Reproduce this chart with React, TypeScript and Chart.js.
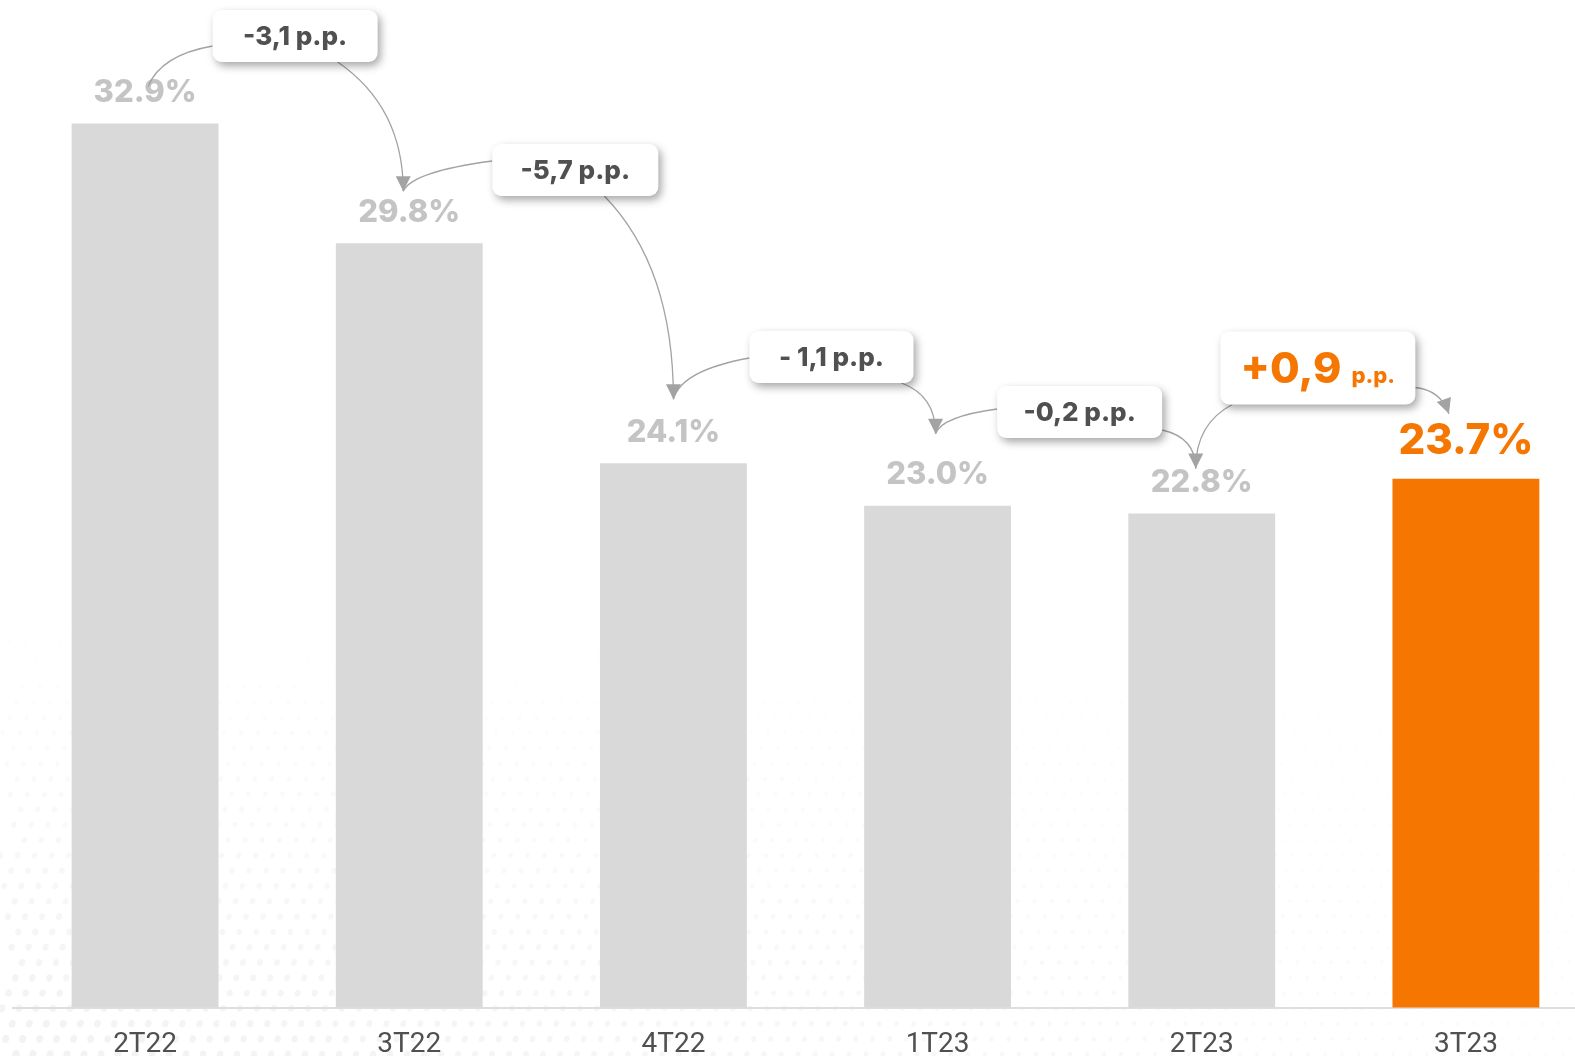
import React, { useEffect, useRef } from "react";
import { Chart, registerables } from "chart.js";

Chart.register(...registerables);

// ---------- data ----------
const CATEGORIES = ["2T22", "3T22", "4T22", "1T23", "2T23", "3T23"];
const VALUES = [32.9, 29.8, 24.1, 23.0, 22.8, 23.7];
const DELTA_LABELS = ["-3,1", "-5,7", "- 1,1", "-0,2", "+0,9"];
const DELTA_UNIT = "p.p.";
const Y_MIN = 10;
const Y_MAX = 36.1;

// ---------- styles / layout ----------
const GREY_BAR = "#d9d9d9";
const ORANGE = "#f57600";
const LABEL_GREY = "#c4c4c4";
const DARK = "#505050";
const ARROW = "#a3a3a3";
const FONT = "Inter, 'Noto Sans', sans-serif";

// callout boxes: dx from midpoint between bars, absolute center y
const BOXES = [
  { dx: 18, cy: 36, w: 165, h: 52 },
  { dx: 34, cy: 170, w: 166, h: 52 },
  { dx: 26, cy: 357, w: 164, h: 52 },
  { dx: 10, cy: 412, w: 165, h: 52 },
  { dx: -16, cy: 368, w: 195, h: 73 },
];
// arrow tips relative to bar (dx from bar center, dy above bar top)
const TIPS = [
  { dx: 3, dy: 37 },
  { dx: -6, dy: 52 },
  { dx: 0, dy: 64 },
  { dx: -2, dy: 72 },
  { dx: -6, dy: 45 },
  { dx: -17, dy: 65 },
];
// curve starts relative to box top-left; control point as fraction of (end-start)
const LEFT_CURVES = [
  { sx: 0, sy: 36, ax: 0.8, ay: 0.22 },
  { sx: 0, sy: 17, ax: 0.9, ay: 0.35 },
  { sx: 0, sy: 27, ax: 0.9, ay: 0.3 },
  { sx: 0, sy: 23, ax: 0.9, ay: 0.3 },
  { sx: 12, sy: 73, ax: 1, ay: 0.3 },
];
const RIGHT_CURVES = [
  { sx: 125, sy: 52, ax: 1, ay: 0.35 },
  { sx: 112, sy: 52, ax: 1, ay: 0.35 },
  { sx: 152, sy: 52, ax: 1, ay: 0.25 },
  { sx: 165, sy: 44, ax: 1, ay: 0.2 },
  { sx: 195, sy: 56, ax: 0.75, ay: 0.1 },
];

type P = { x: number; y: number };

function quad(ctx: CanvasRenderingContext2D, s: P, c: P, e: P) {
  ctx.beginPath();
  ctx.moveTo(s.x, s.y);
  ctx.quadraticCurveTo(c.x, c.y, e.x, e.y);
  ctx.stroke();
}

function arrowHead(ctx: CanvasRenderingContext2D, tip: P, from: P) {
  const ang = Math.atan2(tip.y - from.y, tip.x - from.x);
  const len = 15;
  const hw = 7.5;
  const bx = tip.x - Math.cos(ang) * len;
  const by = tip.y - Math.sin(ang) * len;
  ctx.beginPath();
  ctx.moveTo(tip.x, tip.y);
  ctx.lineTo(bx + Math.sin(ang) * hw, by - Math.cos(ang) * hw);
  ctx.lineTo(bx - Math.sin(ang) * hw, by + Math.cos(ang) * hw);
  ctx.closePath();
  ctx.fill();
}

const backgroundPlugin = {
  id: "dotsBackground",
  beforeDraw(chart: any) {
    const ctx: CanvasRenderingContext2D = chart.ctx;
    const W = chart.width;
    const H = chart.height;
    ctx.save();
    ctx.fillStyle = "#ffffff";
    ctx.fillRect(0, 0, W, H);
    const step = 17;
    const top = 580;
    let row = 0;
    for (let y = top; y < H + step; y += step * 0.9, row++) {
      const vy = (y - top) / (H - top);
      for (let x = (row % 2) * (step / 2); x < W; x += step) {
        const fx = Math.max(0, 1 - x / 1500);
        const a = 0.05 * vy * (0.35 + 0.65 * fx);
        if (a <= 0.004) continue;
        const r = 2 + 2.2 * vy * fx;
        ctx.fillStyle = `rgba(0,0,0,${a.toFixed(4)})`;
        ctx.beginPath();
        ctx.ellipse(x + (y * 0.12) % step, y, r * 0.85, r, 0.3, 0, Math.PI * 2);
        ctx.fill();
      }
    }
    ctx.restore();
  },
};

const annotationsPlugin = {
  id: "annotations",
  afterDatasetsDraw(chart: any) {
    const ctx: CanvasRenderingContext2D = chart.ctx;
    const meta = chart.getDatasetMeta(0);
    const bars = meta.data;
    const last = VALUES.length - 1;

    // value labels
    ctx.save();
    ctx.textAlign = "center";
    ctx.textBaseline = "middle";
    bars.forEach((bar: any, i: number) => {
      const txt = VALUES[i].toFixed(1) + "%";
      if (i === last) {
        ctx.fillStyle = ORANGE;
        ctx.font = `800 42px ${FONT}`;
        ctx.fillText(txt, bar.x, bar.y - 37);
      } else {
        ctx.fillStyle = LABEL_GREY;
        ctx.font = `800 31px ${FONT}`;
        ctx.fillText(txt, bar.x, bar.y - 31);
      }
    });
    ctx.restore();

    // tips
    const tips: P[] = bars.map((bar: any, i: number) => ({
      x: bar.x + TIPS[i].dx,
      y: bar.y - TIPS[i].dy,
    }));

    // boxes geometry
    const boxes = BOXES.map((b, i) => {
      const mid = (bars[i].x + bars[i + 1].x) / 2 + b.dx;
      return { x: mid - b.w / 2, y: b.cy - b.h / 2, w: b.w, h: b.h };
    });

    // curves
    ctx.save();
    ctx.strokeStyle = ARROW;
    ctx.fillStyle = ARROW;
    ctx.lineWidth = 1.3;
    const headFrom: (P | null)[] = tips.map(() => null);
    boxes.forEach((bx, i) => {
      const lc = LEFT_CURVES[i];
      const ls = { x: bx.x + lc.sx, y: bx.y + lc.sy };
      const le = tips[i];
      const lcp = { x: ls.x + lc.ax * (le.x - ls.x), y: ls.y + lc.ay * (le.y - ls.y) };
      quad(ctx, ls, lcp, le);

      const rc = RIGHT_CURVES[i];
      const rs = { x: bx.x + rc.sx, y: bx.y + rc.sy };
      const re = tips[i + 1];
      const rcp = { x: rs.x + rc.ax * (re.x - rs.x), y: rs.y + rc.ay * (re.y - rs.y) };
      quad(ctx, rs, rcp, re);
      headFrom[i + 1] = rcp;
    });
    tips.forEach((t, i) => {
      const f = headFrom[i];
      if (f) arrowHead(ctx, t, f);
    });
    ctx.restore();

    // boxes
    boxes.forEach((bx, i) => {
      ctx.save();
      ctx.shadowColor = "rgba(0,0,0,0.35)";
      ctx.shadowBlur = 8;
      ctx.shadowOffsetX = 3;
      ctx.shadowOffsetY = 4;
      ctx.fillStyle = "#ffffff";
      ctx.beginPath();
      (ctx as any).roundRect(bx.x, bx.y, bx.w, bx.h, 9);
      ctx.fill();
      ctx.restore();

      ctx.save();
      const cx = bx.x + bx.w / 2;
      const cy = bx.y + bx.h / 2;
      ctx.textBaseline = "alphabetic";
      ctx.textAlign = "left";
      if (i === boxes.length - 1) {
        ctx.fillStyle = ORANGE;
        const big = `800 43px ${FONT}`;
        const small = `800 22px ${FONT}`;
        ctx.font = big;
        const w1 = ctx.measureText(DELTA_LABELS[i]).width;
        ctx.font = small;
        const gap = 10;
        const w2 = ctx.measureText(DELTA_UNIT).width;
        const start = cx - (w1 + gap + w2) / 2;
        const base = cy + 15;
        ctx.font = big;
        ctx.fillText(DELTA_LABELS[i], start, base);
        ctx.font = small;
        ctx.fillText(DELTA_UNIT, start + w1 + gap, base);
      } else {
        ctx.fillStyle = DARK;
        ctx.font = `800 26px ${FONT}`;
        const txt = `${DELTA_LABELS[i]} ${DELTA_UNIT}`;
        ctx.textAlign = "center";
        ctx.fillText(txt, cx, cy + 9);
      }
      ctx.restore();
    });
  },
};

export default function App() {
  const ref = useRef<HTMLCanvasElement | null>(null);

  useEffect(() => {
    if (!ref.current) return;
    const chart = new Chart(ref.current, {
      type: "bar",
      data: {
        labels: CATEGORIES,
        datasets: [
          {
            data: VALUES,
            backgroundColor: VALUES.map((_, i) => (i === VALUES.length - 1 ? ORANGE : GREY_BAR)),
            borderWidth: 0,
            barPercentage: 0.556,
            categoryPercentage: 1,
          },
        ],
      },
      options: {
        animation: false,
        responsive: false,
        devicePixelRatio: 1,
        layout: { padding: { left: 13, right: 0, top: 0, bottom: 0 } },
        plugins: {
          legend: { display: false },
          tooltip: { enabled: false },
        },
        scales: {
          y: {
            display: false,
            min: Y_MIN,
            max: Y_MAX,
          },
          x: {
            grid: { display: false, drawTicks: false },
            border: { display: true, color: "#dedede", width: 2 },
            ticks: {
              color: DARK,
              font: { family: "Roboto, sans-serif", size: 28 },
              padding: 21,
            },
            afterFit: (scale: any) => {
              scale.height = 48.5;
            },
          },
        },
      },
      plugins: [backgroundPlugin, annotationsPlugin],
    });
    return () => chart.destroy();
  }, []);

  return (
    <div
      style={{
        position: "absolute",
        left: 0,
        top: 0,
        width: 1575,
        height: 1056,
        overflow: "hidden",
        background: "#ffffff",
      }}
    >
      <canvas ref={ref} width={1598} height={1056} style={{ display: "block" }} />
    </div>
  );
}
